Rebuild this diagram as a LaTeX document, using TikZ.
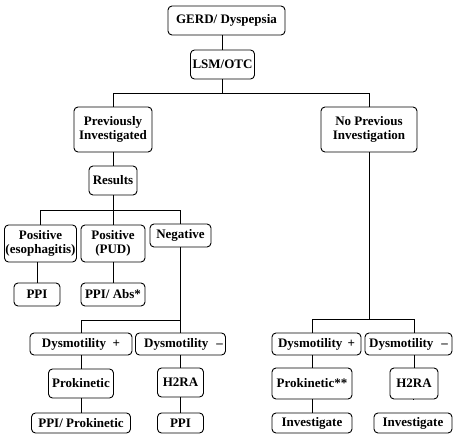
\documentclass[tikz,border=0pt]{standalone}
\usepackage{fontspec}
\setmainfont{Liberation Serif}
\begin{document}
\begin{tikzpicture}[x=1pt,y=-1pt,
  box/.style={draw, rounded corners=4pt, line width=0.9pt, inner sep=0pt, align=center,
              font=\bfseries\fontsize{13}{14.5}\selectfont},
  conn/.style={line width=0.9pt}]
\useasboundingbox (0,0) rectangle (453,434);
% top
\node[box, minimum width=117pt, minimum height=29pt] (gerd) at (226.5,20.5) {GERD/ Dyspepsia};
\node[box, minimum width=64pt, minimum height=29pt] (lsm) at (222.5,64.5) {LSM/OTC};
\node[box, minimum width=78pt, minimum height=45pt] (prev) at (113,129.5) {Previously\\Investigated};
\node[box, minimum width=96pt, minimum height=45pt] (noprev) at (369,129.5) {No Previous\\Investigation};
\node[box, minimum width=48pt, minimum height=29pt] (results) at (113,180.5) {Results};
% results row
\node[box, minimum width=72pt, minimum height=37pt] (esoph) at (40.5,243.5) {Positive\\(esophagitis)};
\node[box, minimum width=64pt, minimum height=37pt] (pud) at (113,243.5) {Positive\\(PUD)};
\node[box, minimum width=61pt, minimum height=23pt] (negative) at (180.5,235.5) {Negative};
\node[box, minimum width=46pt, minimum height=23pt] (ppia) at (37,294.5) {PPI};
\node[box, minimum width=64pt, minimum height=23pt] (ppiabs) at (113,294.5) {PPI/ Abs*};
% left lower
\node[box, minimum width=102pt, minimum height=22pt] (dplusL) at (81,344) {Dysmotility\hspace{0.5em}+};
\node[box, minimum width=90pt, minimum height=22pt] (dminusL) at (180.5,344) {\hspace{6pt}Dysmotility\hspace{0.6em}–};
\node[box, minimum width=65pt, minimum height=29pt] (prokL) at (81,383.5) {Prokinetic};
\node[box, minimum width=46pt, minimum height=29pt] (h2raL) at (180.5,382.5) {H2RA};
\node[box, minimum width=99pt, minimum height=20pt] (ppiprok) at (81,423) {PPI/ Prokinetic};
\node[box, minimum width=46pt, minimum height=20pt] (ppib) at (180.5,423) {PPI};
% right lower
\node[box, minimum width=89pt, minimum height=22pt] (dplusR) at (316.5,344) {Dysmotility\hspace{0.4em}+};
\node[box, minimum width=87pt, minimum height=22pt] (dminusR) at (408.5,344) {Dysmotility\hspace{0.6em}–};
\node[box, minimum width=80pt, minimum height=31pt] (prokR) at (312,383.5) {Prokinetic**};
\node[box, minimum width=48pt, minimum height=31pt] (h2raR) at (414,383.5) {H2RA};
\node[box, minimum width=80pt, minimum height=20pt] (invL) at (312,423) {Investigate};
\node[box, minimum width=78pt, minimum height=20pt] (invR) at (413,423) {Investigate};
% connectors
\draw[conn] (lsm.north) -- (lsm.north |- gerd.south);
\path (lsm.south) ++(0,14) coordinate (b1);
\draw[conn] (lsm.south) -- (b1);
\draw[conn] (prev.north) |- (b1) -| (noprev.north);
\draw[conn] (prev.south) -- (results.north);
\path (results.south) ++(0,15) coordinate (b2);
\draw[conn] (results.south) -- (pud.north);
\draw[conn] (esoph.north) |- (b2) -| (negative.north);
\draw[conn] (ppia.north) -- (ppia.north |- esoph.south);
\draw[conn] (pud.south) -- (ppiabs.north);
\path (negative.south) ++(0,73) coordinate (b3);
\draw[conn] (negative.south) -- (dminusL.north);
\draw[conn] (dplusL.north) |- (b3);
\draw[conn] (dplusL.south) -- (prokL.north);
\draw[conn] (prokL.south) -- (ppiprok.north);
\draw[conn] (dminusL.south) -- (h2raL.north);
\draw[conn] (h2raL.south) -- (ppib.north);
\path (noprev.south) ++(0,167) coordinate (b4);
\draw[conn] (noprev.south) -- (b4);
\draw[conn] (dplusR.north -| prokR.north) |- (b4) -| (dminusR.north -| h2raR.north);
\draw[conn] (prokR.north) -- (prokR.north |- dplusR.south);
\draw[conn] (prokR.south) -- (invL.north);
\draw[conn] (h2raR.north) -- (h2raR.north |- dminusR.south);
\draw[conn] (h2raR.south) -- (invR.north |- h2raR.south);
\end{tikzpicture}
\end{document}
